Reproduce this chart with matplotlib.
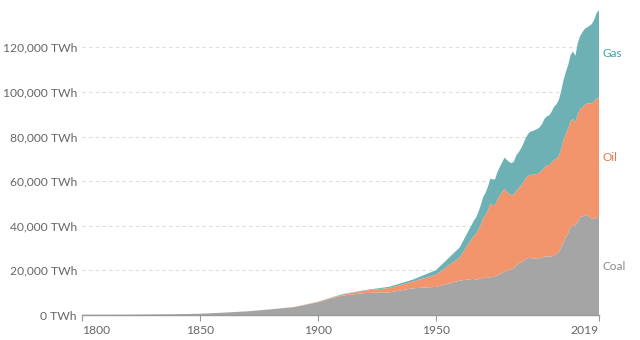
import matplotlib
matplotlib.use("Agg")
import matplotlib.pyplot as plt
import matplotlib.ticker as mticker

# decadal values before 1965, annual after
years = [1800, 1810, 1820, 1830, 1840, 1850, 1860, 1870, 1880, 1890,
         1900, 1910, 1920, 1930, 1940, 1950, 1960] + list(range(1965, 2020))

coal = [97, 128, 153, 264, 356, 569, 1061, 1642, 2542, 3526,
        5728, 8676, 9862, 10120, 11956, 12603, 15442,
        16100, 16200, 15900, 16100, 16500, 16700, 16600, 16700, 17000, 17000,
        17300, 17900, 18400, 18800, 19600, 20000, 20200, 20500, 21200, 22200,
        23100, 23500, 24300, 25000, 25500, 25700, 25400, 25300, 25500, 25400,
        25800, 26200, 26300, 26100, 26300, 26900, 27300, 28200, 30500, 32700,
        34900, 36900, 39500, 40500, 40000, 42000, 44000, 44200, 44800, 44800,
        43900, 43000, 43300, 44000, 43800]

oil = [0, 0, 0, 0, 0, 0, 0, 6, 33, 89,
       181, 477, 1100, 1973, 2979, 5444, 10400,
       17900, 19300, 20600, 22400, 24300, 26900, 28300, 30400, 33000, 32300,
       32000, 34000, 35300, 36400, 37000, 35300, 34000, 33200, 33000, 33600,
       33600, 34600, 35200, 36300, 36900, 37300, 37400, 37900, 37800, 38600,
       39200, 40000, 40900, 41200, 42100, 42600, 42900, 43200, 44100, 45900,
       46500, 47000, 47600, 47300, 46500, 47900, 48300, 49000, 49600, 50000,
       51000, 51900, 52600, 53000, 53600]

gas = [0, 0, 0, 0, 0, 0, 0, 0, 0, 0,
       64, 149, 233, 540, 875, 2092, 4476,
       6300, 6800, 7300, 7900, 8700, 9400, 10000, 10600, 11200, 11500,
       11600, 12300, 12700, 13300, 14000, 14200, 14400, 14400, 14700, 15800,
       16300, 16600, 17400, 18100, 18800, 19300, 19700, 19800, 20200, 20300,
       20900, 21900, 21900, 22300, 22900, 23900, 24300, 25000, 25900, 26900,
       27700, 28400, 29500, 30400, 29700, 32000, 32800, 33600, 34000, 34200,
       34800, 35600, 36600, 38400, 39300]

labels = ["Coal", "Oil", "Gas"]
fill_colors = ["#a5a5a5", "#f2956d", "#6db1b5"]
text_colors = ["#8a8a8a", "#e8754c", "#3f9fa6"]

plt.rcParams["font.family"] = ["Lato", "DejaVu Sans"]

fig = plt.figure(figsize=(6.4, 3.4), dpi=100)
ax = fig.add_axes([82 / 640, 25 / 340, 517 / 640, 312.2 / 340])

ax.stackplot(years, coal, oil, gas, colors=fill_colors, linewidth=0)

ax.set_xlim(1800, 2019)
ax.set_ylim(0, 140000)

ax.set_yticks(range(0, 140000, 20000))
ax.yaxis.set_major_formatter(mticker.FuncFormatter(lambda v, p: f"{int(v):,} TWh"))
ax.set_xticks([1800, 1850, 1900, 1950, 2019])

ax.grid(axis="y", color="#dddddd", linestyle=(0, (3, 3)), linewidth=0.8)
ax.set_axisbelow(True)
for s in ["top", "right", "left"]:
    ax.spines[s].set_visible(False)
ax.spines["bottom"].set_color("#999999")
ax.spines["bottom"].set_linewidth(1)

ax.tick_params(axis="y", length=0, pad=3.6, labelsize=8.7, labelcolor="#666666")
ax.tick_params(axis="x", length=4, color="#999999", pad=3,
               labelsize=8.7, labelcolor="#666666")
xl = ax.get_xticklabels()
xl[0].set_horizontalalignment("left")
xl[-1].set_horizontalalignment("right")

# series labels at mid-band of last year
last = [coal[-1], oil[-1], gas[-1]]
base = 0
for name, val, c in zip(labels, last, text_colors):
    ax.text(2020.5, base + val / 2, name, color=c, fontsize=8.5,
            va="center", ha="left", clip_on=False)
    base += val

fig.savefig("out.png", dpi=100)
